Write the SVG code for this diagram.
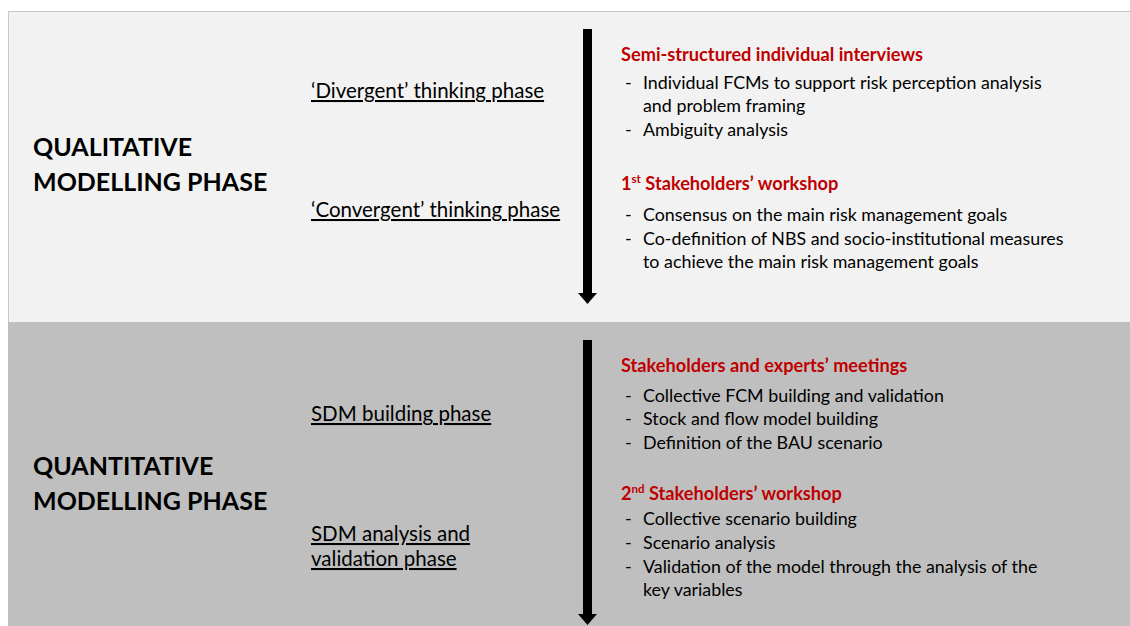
<svg xmlns="http://www.w3.org/2000/svg" width="1130" height="626" viewBox="0 0 1130 626">
<style>
text{font-family:Lato,"Liberation Sans",sans-serif;fill:#000}
.big{font-size:25px;font-weight:bold}
.ph{font-size:20.5px;text-decoration:underline}
.hd{font-size:18.2px;font-weight:bold;fill:#c00000}
.it{font-size:17.85px}
.shaft{stroke:#000;stroke-width:9}
.head{fill:#000}
</style>
<rect x="0" y="0" width="1130" height="626" fill="#fff"/>
<g id="panel-qualitative">
<rect x="8.5" y="11.5" width="1130" height="311" fill="#f2f2f2" stroke="#c8c8c8" stroke-width="1"/>
</g>
<g id="panel-quantitative">
<rect x="8" y="322" width="1130" height="310" fill="#bfbfbf"/>
</g>
<g id="connectors">
<line class="shaft" x1="587.5" y1="29" x2="587.5" y2="294"/>
<polygon class="head" points="578,293 597,293 587.5,304"/>
<line class="shaft" x1="587.5" y1="340" x2="587.5" y2="615"/>
<polygon class="head" points="578,614 597,614 587.5,625"/>
</g>
<g id="qual-title">
<text class="big" x="33" y="156">QUALITATIVE</text>
<text class="big" x="33" y="191">MODELLING PHASE</text>
</g>
<g id="quant-title">
<text class="big" x="33" y="475">QUANTITATIVE</text>
<text class="big" x="33" y="510">MODELLING PHASE</text>
</g>
<g id="divergent"><text class="ph" x="311" y="98">‘Divergent’ thinking phase</text></g>
<g id="convergent"><text class="ph" x="311" y="217">‘Convergent’ thinking phase</text></g>
<g id="sdm-building"><text class="ph" x="311" y="421">SDM building phase</text></g>
<g id="sdm-analysis"><text class="ph" x="311" y="541">SDM analysis and</text><text class="ph" x="311" y="566">validation phase</text></g>
<g id="interviews">
<text class="hd" x="621" y="61">Semi-structured individual interviews</text>
<text class="it" x="625" y="89">-</text><text class="it" x="643" y="89">Individual FCMs to support risk perception analysis</text>
<text class="it" x="643" y="112">and problem framing</text>
<text class="it" x="625" y="136">-</text><text class="it" x="643" y="136">Ambiguity analysis</text>
</g>
<g id="workshop1">
<text class="hd" x="621" y="190">1<tspan font-size="11.5" dy="-7">st</tspan><tspan dy="7"> Stakeholders’ workshop</tspan></text>
<text class="it" x="625" y="221">-</text><text class="it" x="643" y="221">Consensus on the main risk management goals</text>
<text class="it" x="625" y="245">-</text><text class="it" x="643" y="245">Co-definition of NBS and socio-institutional measures</text>
<text class="it" x="643" y="268">to achieve the main risk management goals</text>
</g>
<g id="meetings">
<text class="hd" x="621" y="372">Stakeholders and experts’ meetings</text>
<text class="it" x="625" y="402">-</text><text class="it" x="643" y="402">Collective FCM building and validation</text>
<text class="it" x="625" y="425">-</text><text class="it" x="643" y="425">Stock and flow model building</text>
<text class="it" x="625" y="449">-</text><text class="it" x="643" y="449">Definition of the BAU scenario</text>
</g>
<g id="workshop2">
<text class="hd" x="621" y="500">2<tspan font-size="11.5" dy="-7">nd</tspan><tspan dy="7"> Stakeholders’ workshop</tspan></text>
<text class="it" x="625" y="525">-</text><text class="it" x="643" y="525">Collective scenario building</text>
<text class="it" x="625" y="549">-</text><text class="it" x="643" y="549">Scenario analysis</text>
<text class="it" x="625" y="573">-</text><text class="it" x="643" y="573">Validation of the model through the analysis of the</text>
<text class="it" x="643" y="596">key variables</text>
</g>
</svg>
